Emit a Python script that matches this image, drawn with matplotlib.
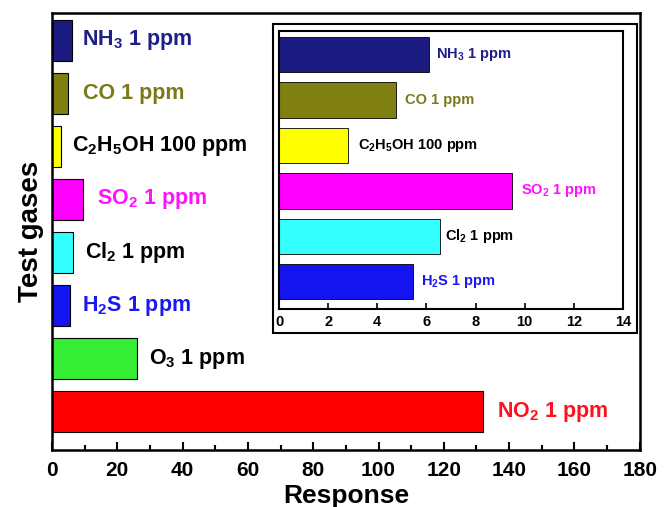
import matplotlib
matplotlib.use('Agg')
import matplotlib.pyplot as plt
from matplotlib import ticker
from matplotlib.patches import Rectangle

# Main chart data (bottom to top)
gases = ['NO$_2$ 1 ppm', 'O$_3$ 1 ppm', 'H$_2$S 1 ppm', 'Cl$_2$ 1 ppm',
         'SO$_2$ 1 ppm', 'C$_2$H$_5$OH 100 ppm', 'CO 1 ppm', 'NH$_3$ 1 ppm']
responses = [132, 26, 5.45, 6.55, 9.5, 2.8, 4.75, 6.1]
bar_colors = ['#ff0000', '#33ee33', '#1414f0', '#33ffff',
              '#ff00ff', '#ffff00', '#808010', '#1a1a80']
label_colors = ['#ff1020', 'black', '#1a1af0', 'black',
                '#ff10ff', 'black', '#7a7a1a', '#1f1f8a']
label_pad = [10, 9, 9, 8, 10, 8, 11, 7]

# Inset data (bottom to top)
inset_gases = ['H$_2$S 1 ppm', 'Cl$_2$ 1 ppm', 'SO$_2$ 1 ppm',
               'C$_2$H$_5$OH 100 ppm', 'CO 1 ppm', 'NH$_3$ 1 ppm']
inset_responses = [5.45, 6.55, 9.5, 2.8, 4.75, 6.1]
inset_bar_colors = ['#1414f0', '#33ffff', '#ff00ff', '#ffff00', '#808010', '#1a1a80']
inset_label_colors = ['#1a1af0', 'black', '#ff10ff', 'black', '#7a7a1a', '#1f1f8a']
inset_pad = [6, 4, 6, 7, 7, 5]

plt.rcParams['font.family'] = 'Liberation Sans'
plt.rcParams['font.weight'] = 'bold'
plt.rcParams['mathtext.fontset'] = 'custom'
plt.rcParams['mathtext.rm'] = 'Liberation Sans:bold'
plt.rcParams['mathtext.it'] = 'Liberation Sans:bold'
plt.rcParams['mathtext.bf'] = 'Liberation Sans:bold'
plt.rcParams['mathtext.default'] = 'bf'

fig = plt.figure(figsize=(6.72, 5.07), dpi=100)
ax = fig.add_axes([0.0774, 0.1124, 0.8746, 0.8616])

ypos = list(range(len(gases)))
ax.barh(ypos, responses, height=0.77, color=bar_colors, edgecolor='black', linewidth=0.8)
for y, v, lab, c, p in zip(ypos, responses, gases, label_colors, label_pad):
    ax.annotate(lab, (v, y), xytext=(p, 0), textcoords='offset points',
                va='center', ha='left', fontsize=15.5, fontweight='bold', color=c)

ax.set_xlim(0, 180)
ax.set_ylim(-0.72, 7.51)
ax.xaxis.set_major_locator(ticker.MultipleLocator(20))
ax.xaxis.set_minor_locator(ticker.MultipleLocator(10))
ax.tick_params(axis='x', which='major', direction='in', length=6, width=1.5,
               labelsize=15, pad=8)
ax.tick_params(axis='x', which='minor', direction='in', length=3.5, width=1.5)
ax.set_yticks([])
for s in ax.spines.values():
    s.set_linewidth(1.8)
ax.set_xlabel('Response', fontsize=19, fontweight='bold', labelpad=3)
ax.set_ylabel('Test gases', fontsize=20, fontweight='bold', labelpad=6)

# Inset frame
frame = Rectangle((0.406, 0.343), 0.542, 0.61, transform=fig.transFigure,
                  facecolor='white', edgecolor='black', linewidth=1.5, zorder=2)
fig.patches.append(frame)

iax = fig.add_axes([0.4152, 0.3905, 0.5118, 0.5484], zorder=3)
iy = list(range(len(inset_gases)))
iax.barh(iy, inset_responses, height=0.78, color=inset_bar_colors,
         edgecolor='black', linewidth=0.6)
for y, v, lab, c, p in zip(iy, inset_responses, inset_gases, inset_label_colors, inset_pad):
    iax.annotate(lab, (v, y), xytext=(p, 0), textcoords='offset points',
                 va='center', ha='left', fontsize=10.5, fontweight='bold', color=c)
iax.set_xlim(0, 14)
iax.set_ylim(-0.6, 5.52)
iax.xaxis.set_major_locator(ticker.MultipleLocator(2))
iax.tick_params(axis='x', direction='in', length=4, width=1.2, labelsize=10.5, pad=4)
iax.set_yticks([])
for s in iax.spines.values():
    s.set_linewidth(1.5)

fig.savefig('out.png', dpi=100)
